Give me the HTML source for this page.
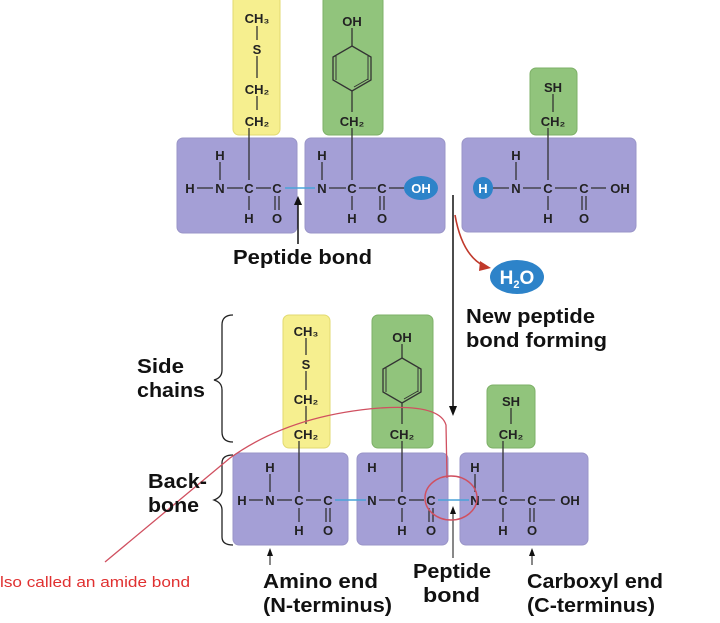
<!DOCTYPE html>
<html><head><meta charset="utf-8"><style>
html,body{margin:0;padding:0;background:#fff;}
svg{display:block}
text{font-family:"Liberation Sans",sans-serif;font-weight:bold;fill:#222}
.a{font-size:13px;text-anchor:middle}
.l{font-size:20px;fill:#111}
</style></head><body>
<svg width="720" height="623" viewBox="0 0 720 623" xmlns="http://www.w3.org/2000/svg">
<g stroke="none">
<rect x="177" y="138" width="120" height="95" rx="6" fill="#a49fd6" stroke="#9a95c8"/>
<rect x="305" y="138" width="140" height="95" rx="6" fill="#a49fd6" stroke="#9a95c8"/>
<rect x="462" y="138" width="174" height="94" rx="6" fill="#a49fd6" stroke="#9a95c8"/>
<rect x="233" y="-5" width="47" height="140" rx="6" fill="#f6ef8f" stroke="#e2da70"/>
<rect x="323" y="-5" width="60" height="140" rx="6" fill="#91c47c" stroke="#7db067"/>
<rect x="530" y="68" width="47" height="67" rx="6" fill="#91c47c" stroke="#7db067"/>
<rect x="233" y="453" width="115" height="92" rx="6" fill="#a49fd6" stroke="#9a95c8"/>
<rect x="357" y="453" width="91" height="92" rx="6" fill="#a49fd6" stroke="#9a95c8"/>
<rect x="460" y="453" width="128" height="92" rx="6" fill="#a49fd6" stroke="#9a95c8"/>
<rect x="283" y="315" width="47" height="133" rx="6" fill="#f6ef8f" stroke="#e2da70"/>
<rect x="372" y="315" width="61" height="133" rx="6" fill="#91c47c" stroke="#7db067"/>
<rect x="487" y="385" width="48" height="63" rx="6" fill="#91c47c" stroke="#7db067"/>
</g>
<g stroke="#333" stroke-width="1.3" fill="none">
<line x1="257" y1="26" x2="257" y2="40"/><line x1="257" y1="56" x2="257" y2="78"/><line x1="257" y1="96" x2="257" y2="110"/><line x1="249" y1="128" x2="249" y2="180"/>
<line x1="352" y1="28" x2="352" y2="46"/><polygon points="352,46 371,57 371,80 352,91 333,80 333,57"/>
<line x1="352" y1="91" x2="352" y2="112"/><line x1="352" y1="128" x2="352" y2="180"/>
<line x1="553" y1="94" x2="553" y2="112"/><line x1="548" y1="128" x2="548" y2="180"/>
<line x1="197" y1="188" x2="213" y2="188"/><line x1="227" y1="188" x2="243" y2="188"/><line x1="256" y1="188" x2="271" y2="188"/>
<line x1="220" y1="162" x2="220" y2="180"/><line x1="249" y1="196" x2="249" y2="210"/><line x1="275" y1="196" x2="275" y2="210"/><line x1="279" y1="196" x2="279" y2="210"/>
<line x1="329" y1="188" x2="346" y2="188"/><line x1="359" y1="188" x2="376" y2="188"/><line x1="389" y1="188" x2="404" y2="188"/>
<line x1="322" y1="162" x2="322" y2="180"/><line x1="352" y1="196" x2="352" y2="210"/><line x1="380" y1="196" x2="380" y2="210"/><line x1="384" y1="196" x2="384" y2="210"/>
<line x1="492" y1="188" x2="509" y2="188"/><line x1="523" y1="188" x2="541" y2="188"/><line x1="555" y1="188" x2="577" y2="188"/><line x1="591" y1="188" x2="606" y2="188"/>
<line x1="516" y1="162" x2="516" y2="180"/><line x1="548" y1="196" x2="548" y2="210"/><line x1="582" y1="196" x2="582" y2="210"/><line x1="586" y1="196" x2="586" y2="210"/>
<line x1="306" y1="338" x2="306" y2="355"/><line x1="306" y1="371" x2="306" y2="390"/><line x1="306" y1="406" x2="306" y2="424"/><line x1="299" y1="441" x2="299" y2="492"/>
<line x1="402" y1="344" x2="402" y2="358"/><polygon points="402,358 421,369 421,392 402,403 383,392 383,369"/>
<line x1="402" y1="403" x2="402" y2="424"/><line x1="402" y1="441" x2="402" y2="492"/>
<line x1="511" y1="408" x2="511" y2="424"/><line x1="503" y1="441" x2="503" y2="492"/>
<line x1="249" y1="500" x2="263" y2="500"/><line x1="277" y1="500" x2="292" y2="500"/><line x1="306" y1="500" x2="321" y2="500"/>
<line x1="270" y1="474" x2="270" y2="492"/><line x1="299" y1="508" x2="299" y2="522"/><line x1="326" y1="508" x2="326" y2="522"/><line x1="330" y1="508" x2="330" y2="522"/>
<line x1="379" y1="500" x2="395" y2="500"/><line x1="409" y1="500" x2="424" y2="500"/>
<line x1="402" y1="508" x2="402" y2="522"/><line x1="429" y1="508" x2="429" y2="522"/><line x1="433" y1="508" x2="433" y2="522"/>
<line x1="482" y1="500" x2="496" y2="500"/><line x1="510" y1="500" x2="525" y2="500"/><line x1="539" y1="500" x2="555" y2="500"/>
<line x1="475" y1="474" x2="475" y2="492"/><line x1="503" y1="508" x2="503" y2="522"/><line x1="530" y1="508" x2="530" y2="522"/><line x1="534" y1="508" x2="534" y2="522"/>
</g>
<g stroke="#333" stroke-width="1" fill="none">
<line x1="336" y1="56" x2="336" y2="80"/><line x1="368" y1="56" x2="368" y2="80"/><line x1="354" y1="87" x2="368" y2="79"/>
<line x1="386" y1="368" x2="386" y2="392"/><line x1="418" y1="368" x2="418" y2="392"/><line x1="404" y1="399" x2="418" y2="391"/>
</g>
<line x1="285" y1="188" x2="315" y2="188" stroke="#4aa3d8" stroke-width="1.5"/>
<line x1="335" y1="500" x2="366" y2="500" stroke="#4aa3d8" stroke-width="1.5"/>
<line x1="438" y1="500" x2="469" y2="500" stroke="#4aa3d8" stroke-width="1.5"/>
<ellipse cx="421" cy="188" rx="17" ry="12" fill="#2d83c9"/>
<ellipse cx="483" cy="188" rx="10" ry="11" fill="#2d83c9"/>
<ellipse cx="517" cy="277" rx="27" ry="17" fill="#2d83c9"/>
<g>
<text x="257" y="23" class="a">CH₃</text><text x="257" y="54" class="a">S</text><text x="257" y="94" class="a">CH₂</text><text x="257" y="126" class="a">CH₂</text>
<text x="352" y="26" class="a">OH</text><text x="352" y="126" class="a">CH₂</text>
<text x="553" y="92" class="a">SH</text><text x="553" y="126" class="a">CH₂</text>
<text x="190" y="193" class="a">H</text><text x="220" y="193" class="a">N</text><text x="249" y="193" class="a">C</text><text x="277" y="193" class="a">C</text>
<text x="220" y="160" class="a">H</text><text x="249" y="223" class="a">H</text><text x="277" y="223" class="a">O</text>
<text x="322" y="193" class="a">N</text><text x="352" y="193" class="a">C</text><text x="382" y="193" class="a">C</text>
<text x="322" y="160" class="a">H</text><text x="352" y="223" class="a">H</text><text x="382" y="223" class="a">O</text>
<text x="421" y="193" class="a" style="fill:#fff">OH</text>
<text x="483" y="193" class="a" style="fill:#fff">H</text>
<text x="516" y="193" class="a">N</text><text x="548" y="193" class="a">C</text><text x="584" y="193" class="a">C</text><text x="620" y="193" class="a">OH</text>
<text x="516" y="160" class="a">H</text><text x="548" y="223" class="a">H</text><text x="584" y="223" class="a">O</text>
<text x="306" y="336" class="a">CH₃</text><text x="306" y="369" class="a">S</text><text x="306" y="404" class="a">CH₂</text><text x="306" y="439" class="a">CH₂</text>
<text x="402" y="342" class="a">OH</text><text x="402" y="439" class="a">CH₂</text>
<text x="511" y="406" class="a">SH</text><text x="511" y="439" class="a">CH₂</text>
<text x="242" y="505" class="a">H</text><text x="270" y="505" class="a">N</text><text x="299" y="505" class="a">C</text><text x="328" y="505" class="a">C</text>
<text x="270" y="472" class="a">H</text><text x="299" y="535" class="a">H</text><text x="328" y="535" class="a">O</text>
<text x="372" y="505" class="a">N</text><text x="402" y="505" class="a">C</text><text x="431" y="505" class="a">C</text>
<text x="372" y="472" class="a">H</text><text x="402" y="535" class="a">H</text><text x="431" y="535" class="a">O</text>
<text x="475" y="505" class="a">N</text><text x="503" y="505" class="a">C</text><text x="532" y="505" class="a">C</text><text x="570" y="505" class="a">OH</text>
<text x="475" y="472" class="a">H</text><text x="503" y="535" class="a">H</text><text x="532" y="535" class="a">O</text>
</g>
<text x="517" y="284" style="font-size:19px;fill:#fff;text-anchor:middle">H<tspan font-size="11" dy="4">2</tspan><tspan dy="-4">O</tspan></text>
<g stroke="#111" stroke-width="1.5" fill="#111">
<line x1="298" y1="244" x2="298" y2="203"/><polygon points="294,205 302,205 298,196" stroke="none"/>
<line x1="453" y1="195" x2="453" y2="408"/><polygon points="449,406 457,406 453,416" stroke="none"/>
<line x1="270" y1="565" x2="270" y2="554" stroke-width="1"/><polygon points="267,556 273,556 270,548" stroke="none"/>
<line x1="453" y1="558" x2="453" y2="512" stroke-width="1"/><polygon points="450,514 456,514 453,506" stroke="none"/>
<line x1="532" y1="565" x2="532" y2="554" stroke-width="1"/><polygon points="529,556 535,556 532,548" stroke="none"/>
</g>
<path d="M455,215 Q462,255 484,266" stroke="#c0392b" stroke-width="1.6" fill="none"/>
<polygon points="480,261 491,268 479,271" fill="#c0392b"/>
<path d="M233,315 Q222,315 222,325 L222,370 Q222,378 214,380 Q222,382 222,390 L222,432 Q222,442 233,442" stroke="#222" stroke-width="1.3" fill="none"/>
<path d="M233,455 Q222,455 222,463 L222,490 Q222,497 214,500 Q222,503 222,510 L222,537 Q222,545 233,545" stroke="#222" stroke-width="1.3" fill="none"/>
<path d="M105,562 L230,458 Q290,415 380,408 Q440,404 446,425 L447,478" stroke="#d05060" stroke-width="1.3" fill="none"/>
<ellipse cx="451" cy="498" rx="26" ry="22" stroke="#d05060" stroke-width="1.5" fill="none"/>
<text x="0" y="587" textLength="190" lengthAdjust="spacingAndGlyphs" style="font-family:'Liberation Sans',sans-serif;font-weight:normal;font-size:15px;fill:#e03030">lso called an amide bond</text>
<text x="233" y="264" class="l" textLength="139" lengthAdjust="spacingAndGlyphs">Peptide bond</text>
<text x="466" y="323" class="l" textLength="129" lengthAdjust="spacingAndGlyphs">New peptide</text>
<text x="466" y="347" class="l" textLength="141" lengthAdjust="spacingAndGlyphs">bond forming</text>
<text x="137" y="373" class="l" textLength="47" lengthAdjust="spacingAndGlyphs">Side</text>
<text x="137" y="397" class="l" textLength="68" lengthAdjust="spacingAndGlyphs">chains</text>
<text x="148" y="488" class="l" textLength="59" lengthAdjust="spacingAndGlyphs">Back-</text>
<text x="148" y="512" class="l" textLength="51" lengthAdjust="spacingAndGlyphs">bone</text>
<text x="263" y="588" class="l" textLength="115" lengthAdjust="spacingAndGlyphs">Amino end</text>
<text x="263" y="612" class="l" textLength="129" lengthAdjust="spacingAndGlyphs">(N-terminus)</text>
<text x="413" y="578" class="l" textLength="78" lengthAdjust="spacingAndGlyphs">Peptide</text>
<text x="423" y="602" class="l" textLength="57" lengthAdjust="spacingAndGlyphs">bond</text>
<text x="527" y="588" class="l" textLength="136" lengthAdjust="spacingAndGlyphs">Carboxyl end</text>
<text x="527" y="612" class="l" textLength="128" lengthAdjust="spacingAndGlyphs">(C-terminus)</text>
</svg>
</body></html>
